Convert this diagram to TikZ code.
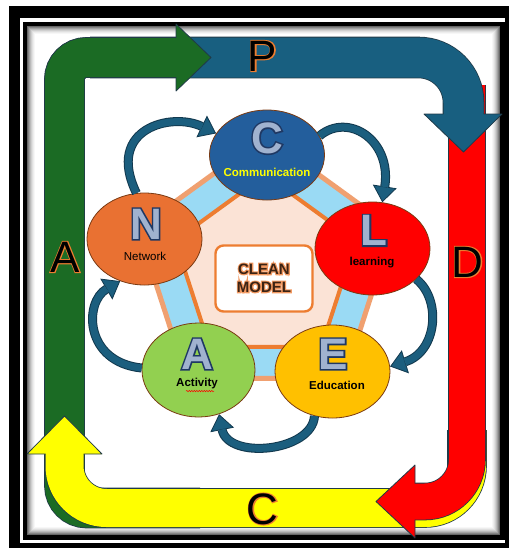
\documentclass[tikz,border=0pt]{standalone}
\usepackage{fontspec}
\setmainfont{Liberation Sans}
\newfontface\pdcaol[FakeBold=4.5]{Liberation Sans}
\newfontface\letol[FakeBold=7]{Liberation Sans Bold}
\newfontface\cleanol[FakeBold=15]{Liberation Sans Bold}
\usetikzlibrary{shapes.geometric,arrows.meta,decorations.pathmorphing}
\definecolor{pgreen}{HTML}{1B6B24}
\definecolor{pblue}{HTML}{185F80}
\definecolor{pred}{HTML}{FF0000}
\definecolor{pyellow}{HTML}{FFFF00}
\definecolor{bandline}{HTML}{203A48}
\definecolor{cC}{HTML}{235E9C}
\definecolor{cL}{HTML}{FF0000}
\definecolor{cN}{HTML}{E97132}
\definecolor{cA}{HTML}{92D050}
\definecolor{cE}{HTML}{FFC000}
\definecolor{circline}{HTML}{7A3A12}
\definecolor{pentout}{HTML}{F0A070}
\definecolor{pentblue}{HTML}{9ADAF4}
\definecolor{pentin}{HTML}{ED7D31}
\definecolor{peach}{HTML}{FBE3D6}
\definecolor{arrfill}{HTML}{1B5E7E}
\definecolor{arrline}{HTML}{12394F}
\definecolor{cyel}{HTML}{FFFF00}
\definecolor{letfill}{HTML}{A0B2CF}
\definecolor{cleantext}{HTML}{3B2314}
\newcommand\outlinedtext[3]{\special{pdf:bcolor [#1] [#2]}#3\special{pdf:ecolor}}
\begin{document}
\begin{tikzpicture}[x=1pt,y=-1pt,
  circ/.style={ellipse, draw=circline, line width=0.8pt, inner sep=0pt, minimum width=115pt, minimum height=92pt},
  bigletter/.style={font=\bfseries\fontsize{44}{44}\selectfont, text=letfill, inner sep=0pt},
  bigletterol/.style={font=\letol\fontsize{44}{44}\selectfont, inner sep=0pt},
  pdca/.style={font=\fontsize{44}{44}\selectfont, text=black, inner sep=0pt},
  pdcaolst/.style={font=\pdcaol\fontsize{44}{44}\selectfont, inner sep=0pt},
  lbl/.style={font=\bfseries\fontsize{11.5}{13}\selectfont, text=black, inner sep=0pt},
  cyo/.style={draw=arrline, line width=9pt, -{Triangle[length=16pt,width=24pt,line width=0.8pt,fill=arrfill]}},
  cyi/.style={draw=arrfill, line width=7pt, shorten >=15.5pt}
]
\useasboundingbox (0,0) rectangle (509,550);
% frame
\fill[white] (0,0) rectangle (509,550);
\fill[black] (9,6) rectangle (509,548);
\fill[white] (20,18) rectangle (505,543);
\fill[black] (23,22) rectangle (505,540);
\fill[white] (27,26) rectangle (500,535);
\foreach \i/\g in {0/60,1/48,2/37,3/27,4/19,5/12,6/7,7/3}
  \draw[black!\g, line width=1pt] (27.5+\i,26.5+\i) rectangle (499.5-\i,534.5-\i);

% ---- PDCA bent arrows ----
% green (full, bottom layer)
\draw[bandline, line width=40.6pt, rounded corners=22pt] (200,508) -- (64.5,508) -- (64.5,57.5) -- (177,57.5);
\draw[pgreen, line width=39pt, rounded corners=22pt] (200,508) -- (64.5,508) -- (64.5,57.5) -- (177,57.5);
% yellow
\draw[bandline, line width=39.6pt, rounded corners=42pt] (467,430) -- (467,508) -- (64.5,508) -- (64.5,454);
\draw[pyellow, line width=38pt, rounded corners=42pt] (467,430) -- (467,508) -- (64.5,508) -- (64.5,454);
\fill[pyellow] (27,454) -- (64.5,416) -- (102,454) -- cycle;
\draw[bandline, line width=0.8pt, line join=round] (45.5,454) -- (27,454) -- (64.5,416) -- (102,454) -- (83.5,454);
% red
\draw[bandline, line width=37.6pt, rounded corners=42pt] (467,85) -- (467,501.5) -- (415,501.5);
\draw[pred, line width=36pt, rounded corners=42pt] (467,85) -- (467,501.5) -- (415,501.5);
\fill[pred] (415,465) -- (376,501.5) -- (415,538) -- cycle;
\draw[bandline, line width=0.8pt, line join=round] (415,483.5) -- (415,465) -- (376,501.5) -- (415,538) -- (415,519.5);
% blue
\draw[bandline, line width=41.6pt, rounded corners=45pt] (90,57.5) -- (463.5,57.5) -- (463.5,115);
\draw[pblue, line width=40pt, rounded corners=45pt] (90,57.5) -- (463.5,57.5) -- (463.5,115);
\fill[pblue] (424,114) -- (502,114) -- (463.5,152) -- cycle;
\draw[bandline, line width=0.8pt, line join=round] (443.5,114) -- (424,114) -- (463.5,152) -- (502,114) -- (483.5,114);
% green (top part again, over blue)
\begin{scope}
\clip (0,0) rectangle (509,400);
\draw[bandline, line width=40.6pt, rounded corners=22pt] (200,508) -- (64.5,508) -- (64.5,57.5) -- (177,57.5);
\draw[pgreen, line width=39pt, rounded corners=22pt] (200,508) -- (64.5,508) -- (64.5,57.5) -- (177,57.5);
\fill[pgreen] (176,24) -- (211,57.5) -- (176,91) -- cycle;
\draw[bandline, line width=0.8pt, line join=round] (176,77) -- (176,91) -- (211,57.5) -- (176,24) -- (176,38);
\end{scope}
% PDCA letters: orange outline layer, then black letter
\node[pdcaolst] (lPo) at (262.5,56) {\outlinedtext{0.93 0.49 0.19}{0.93 0.49 0.19}{P}};
\node[pdca] (lP) at (262.5,56) {P};
\node[pdcaolst] (lDo) at (467.5,262) {\outlinedtext{0.93 0.49 0.19}{0.93 0.49 0.19}{D}};
\node[pdca] (lD) at (467.5,262) {D};
\node[pdcaolst] (lCbo) at (262.5,509) {\outlinedtext{0.93 0.49 0.19}{0.93 0.49 0.19}{C}};
\node[pdca] (lCb) at (262.5,509) {C};
\node[pdcaolst] (lAo) at (65,257) {\outlinedtext{0.93 0.49 0.19}{0.93 0.49 0.19}{A}};
\node[pdca] (lA) at (65,257) {A};

% ---- pentagon ----
\draw[pentout, fill=pentblue, line width=5pt, line join=round]
  (265.5,136) -- (392.9,228.6) -- (344.3,378.4) -- (186.7,378.4) -- (138.1,228.6) -- cycle;
\draw[pentin, fill=peach, line width=4pt, line join=round]
  (265.5,175) -- (355.9,240.6) -- (321.3,346.9) -- (209.7,346.9) -- (175.1,240.6) -- cycle;
\node[draw=pentin, line width=2.4pt, rounded corners=8pt, fill=white, minimum width=97pt, minimum height=66pt, inner sep=0pt] (box) at (264,278.5) {};
\node[font=\cleanol\fontsize{15}{18}\selectfont, align=center, inner sep=0pt] (cmo) at (264,278) {\outlinedtext{0.95 0.6 0.38}{0.95 0.6 0.38}{CLEAN}\\\outlinedtext{0.95 0.6 0.38}{0.95 0.6 0.38}{MODEL}};
\node[font=\bfseries\fontsize{15}{18}\selectfont, align=center, text=cleantext, inner sep=0pt] (cm) at (264,278) {CLEAN\\MODEL};

% ---- circles ----
\node[circ, fill=cC, minimum height=90pt] (C) at (267,155) {};
\node[circ, fill=cL, minimum height=93pt] (L) at (372.5,248.5) {};
\node[circ, fill=cN] (N) at (144.5,239) {};
\node[circ, fill=cA, minimum width=113pt, minimum height=94pt] (A) at (198.5,370) {};
\node[circ, fill=cE, minimum height=93pt] (E) at (332.5,371.5) {};

\node[bigletterol] (bCo) at (267,138) {\outlinedtext{0.12 0.22 0.39}{0.12 0.22 0.39}{C}};
\node[bigletter] (bC) at (267,138) {C};
\node[bigletterol] (bLo) at (374,230.5) {\outlinedtext{0.12 0.22 0.39}{0.12 0.22 0.39}{L}};
\node[bigletter] (bL) at (374,230.5) {L};
\node[bigletterol] (bNo) at (146,224) {\outlinedtext{0.12 0.22 0.39}{0.12 0.22 0.39}{N}};
\node[bigletter] (bN) at (146,224) {N};
\node[bigletterol] (bAo) at (197,354) {\outlinedtext{0.12 0.22 0.39}{0.12 0.22 0.39}{A}};
\node[bigletter] (bA) at (197,354) {A};
\node[bigletterol] (bEo) at (333,354) {\outlinedtext{0.12 0.22 0.39}{0.12 0.22 0.39}{E}};
\node[bigletter] (bE) at (333,354) {E};

\node[lbl, text=cyel] (tC) at (267,172) {Communication};
\node[lbl] (tL) at (372,263) {learning};
\node[lbl, font=\fontsize{11.5}{13}\selectfont] (tN) at (145,256) {Network};
\node[lbl] (tA) at (197,384) {Activity};
\node[lbl] (tE) at (337,385.5) {Education};
\draw[red, line width=0.5pt, decorate, decoration={snake, amplitude=0.7pt, segment length=2.5pt}] (tA.south west) ++(10,1.5) -- ++(28,0);

% ---- cycle arrows ----
\draw[cyo] (N.100) .. controls (105,128) and (172,112) .. (C.157);
\draw[cyi] (N.100) .. controls (105,128) and (172,112) .. (C.157);
\draw[cyo] (C.20) .. controls (348,112) and (392,140) .. (L.78);
\draw[cyi] (C.20) .. controls (348,112) and (392,140) .. (L.78);
\draw[cyo] (L.-35) .. controls (442,300) and (437,352) .. (E.5);
\draw[cyi] (L.-35) .. controls (442,300) and (437,352) .. (E.5);
\draw[cyo] (E.-112) .. controls (312,452) and (228,460) .. (A.-65);
\draw[cyi] (E.-112) .. controls (312,452) and (228,460) .. (A.-65);
\draw[cyo] (A.178) .. controls (84,362) and (84,302) .. (N.-120);
\draw[cyi] (A.178) .. controls (84,362) and (84,302) .. (N.-120);
\end{tikzpicture}
\end{document}
